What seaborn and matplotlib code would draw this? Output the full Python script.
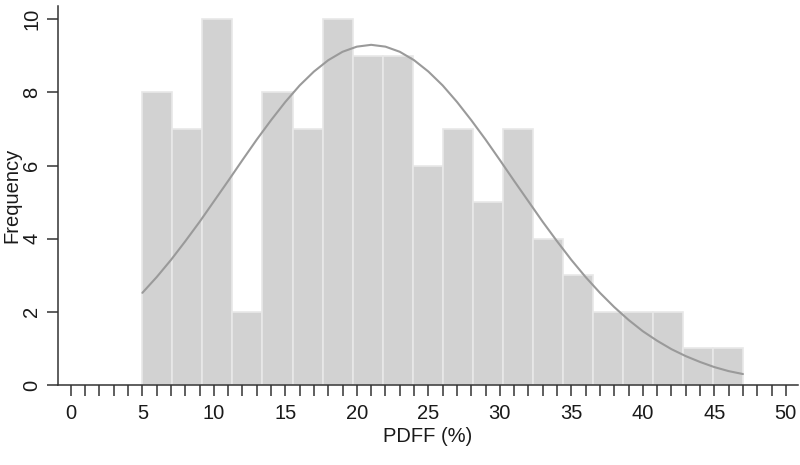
import matplotlib
matplotlib.use("Agg")
import matplotlib.pyplot as plt
import seaborn as sns
import numpy as np
from matplotlib.ticker import MultipleLocator

# Histogram data (PDFF %)
bin_edges = [5.0, 7.1, 9.2, 11.3, 13.4, 15.5, 17.6, 19.7, 21.8, 23.9, 26.0,
             28.1, 30.2, 32.3, 34.4, 36.5, 38.6, 40.7, 42.8, 44.9, 47.0]
counts = [8, 7, 10, 2, 8, 7, 10, 9, 9, 6, 7, 5, 7, 4, 3, 2, 2, 2, 1, 1]

# Fitted normal curve
curve_x = [5, 6, 7, 8, 9, 10, 11, 12, 13, 14, 15, 16, 17, 18, 19, 20, 21, 22, 23, 24,
           25, 26, 27, 28, 29, 30, 31, 32, 33, 34, 35, 36, 37, 38, 39, 40, 41, 42,
           43, 44, 45, 46, 47]
curve_y = [2.52, 2.95, 3.42, 3.93, 4.46, 5.02, 5.58, 6.15, 6.71, 7.24, 7.74, 8.19,
           8.57, 8.88, 9.11, 9.25, 9.30, 9.25, 9.11, 8.88, 8.57, 8.19, 7.74, 7.24,
           6.71, 6.15, 5.58, 5.02, 4.46, 3.93, 3.42, 2.95, 2.52, 2.13, 1.78, 1.47,
           1.21, 0.98, 0.79, 0.63, 0.49, 0.38, 0.30]

x_ticks = [0, 5, 10, 15, 20, 25, 30, 35, 40, 45, 50]
y_ticks = [0, 2, 4, 6, 8, 10]

sns.set_style("ticks")
plt.rcParams['font.family'] = ['Liberation Sans', 'DejaVu Sans']

fig = plt.figure(figsize=(8, 4.65), dpi=100)
ax = fig.add_axes([0.0725, 0.172, 0.925, 0.815])

centers = [(bin_edges[i] + bin_edges[i + 1]) / 2 for i in range(len(counts))]
sns.histplot(x=centers, weights=counts, bins=bin_edges, ax=ax,
             color="#d2d2d2", alpha=1, edgecolor="#e8e8e8", linewidth=1.2)
sns.lineplot(x=curve_x, y=curve_y, ax=ax, color="#9a9a9a", linewidth=1.5)

ax.set_xlim(-0.9, 50.85)
ax.set_ylim(0, 10.36)
ax.set_xticks(x_ticks)
ax.set_xticklabels([str(t) for t in x_ticks])
ax.xaxis.set_minor_locator(MultipleLocator(1))
ax.set_yticks(y_ticks)
ax.set_yticklabels([str(t) for t in y_ticks], rotation=90, va="center")

ax.tick_params(axis="both", which="both", direction="out", length=8, width=1.1,
               color="#333333", labelsize=14.5, labelcolor="#1a1a1a")
ax.tick_params(axis="x", which="both", pad=6)
ax.tick_params(axis="y", pad=4)

for s in ["top", "right"]:
    ax.spines[s].set_visible(False)
for s in ["left", "bottom"]:
    ax.spines[s].set_color("#333333")
    ax.spines[s].set_linewidth(1.1)

ax.set_xlabel("PDFF (%)", fontsize=14.5, color="#1a1a1a")
ax.set_ylabel("Frequency", fontsize=14.5, color="#1a1a1a")
ax.xaxis.set_label_coords(0.5, -0.137)
ax.yaxis.set_label_coords(-0.062, 0.5)
ax.yaxis.label.set_va("center")
ax.xaxis.label.set_va("center")

fig.savefig("out.png", dpi=100)
